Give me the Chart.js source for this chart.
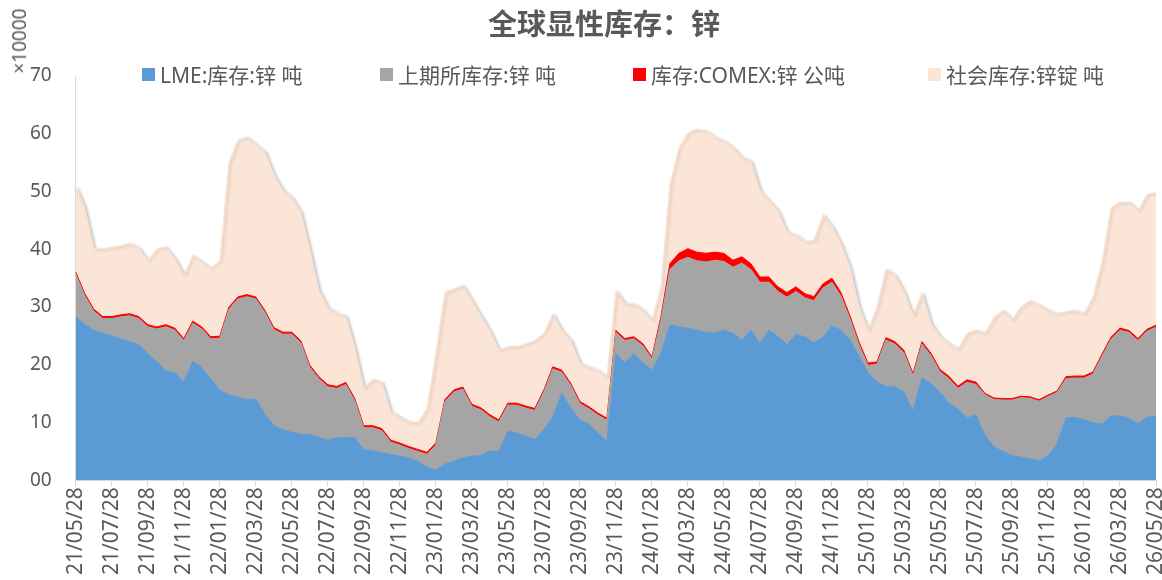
<!DOCTYPE html>
<html>
<head>
<meta charset="utf-8">
<script src="https://cdn.jsdelivr.net/npm/chart.js@4.4.1/dist/chart.umd.min.js"></script>
<style>
  html, body { margin: 0; padding: 0; background: #fff; }
  #wrap { position: relative; width: 1162px; height: 580px; }
  #chartTitle {
    position: absolute; left: 0; top: 1px; width: 1208px; text-align: center;
    font: bold 29px "Noto Sans CJK SC", sans-serif; color: #595959;
  }
  .legItem {
    position: absolute; top: 59px; display: flex; align-items: center; white-space: nowrap;
    font: 21px "Noto Sans", "Noto Sans CJK SC", sans-serif; color: #595959;
  }
  .legBox { width: 13px; height: 13px; margin-right: 5px; }
  #unit {
    position: absolute; left: 19px; top: 41px; transform: translate(-50%, -50%) rotate(-90deg);
    font: 19px "Noto Sans", sans-serif; color: #595959; white-space: nowrap;
  }
</style>
</head>
<body>
<div id="wrap">
  <canvas id="chart"></canvas>
  <div id="chartTitle">全球显性库存：锌</div>
  <div id="unit">×10000</div>
  <div id="legend"></div>
</div>
<script>
// valores em 万吨, pontos a cada meia-quinzena (dia 28 e dia 13)
const lme = [
  28.3, 27, 26, 25.5, 25, 24.5, 24, 23.5, 22, 20.5,
  19, 18.6, 17, 20.6, 19.5, 17.5, 15.6, 14.8, 14.4, 14,
  14, 11.5, 9.5, 8.8, 8.3, 8, 7.9, 7.5, 6.9, 7.4,
  7.4, 7.4, 5.3, 5.1, 4.8, 4.5, 4.2, 3.9, 3.3, 2.3,
  1.8, 2.8, 3.3, 3.9, 4.2, 4.3, 5.1, 4.9, 8.5, 8.2,
  7.6, 7.1, 8.8, 11, 15.1, 12.5, 10.5, 9.7, 8.2, 6.8,
  22, 20.3, 22, 20.3, 19.1, 22, 26.9, 26.6, 26.3, 26,
  25.6, 25.5, 26, 25.5, 24.3, 26, 23.7, 26, 24.9, 23.5,
  25.3, 24.8, 23.8, 24.8, 26.7, 26, 24.3, 21.5, 18.7, 17,
  16.2, 16.2, 15.3, 12, 17.7, 16.8, 15.2, 13.4, 12.3, 10.8,
  11.3, 7.8, 5.8, 5, 4.3, 4, 3.7, 3.4, 4.2, 6.3,
  10.8, 10.9, 10.5, 10, 9.7, 11.2, 11.1, 10.8, 9.8, 10.9,
  11.1,
];
const shfe = [
  7.4, 5.0, 3.3, 2.5, 3.0, 3.8, 4.5, 4.5, 4.6, 5.7,
  7.6, 7.4, 7.2, 6.6, 6.7, 7.0, 9.0, 14.8, 17.0, 17.8,
  17.4, 17.6, 16.6, 16.5, 17.0, 15.8, 11.7, 10.1, 9.3, 8.5,
  9.2, 6.4, 3.8, 4.0, 3.8, 2.1, 1.9, 1.6, 1.7, 2.2,
  4.3, 10.8, 12.0, 11.9, 8.6, 7.9, 5.9, 5.2, 4.5, 4.8,
  4.9, 5.0, 6.5, 8.3, 3.6, 3.9, 2.8, 2.7, 3.1, 3.6,
  3.6, 3.9, 2.5, 3.0, 1.9, 5.7, 9.6, 11.4, 12.3, 12.0,
  12.2, 12.6, 11.9, 11.4, 13.3, 10.5, 10.6, 8.3, 7.8, 8.2,
  7.4, 6.8, 7.3, 8.5, 7.6, 5.9, 3.7, 2.0, 1.2, 3.1,
  8.1, 7.4, 6.8, 6.1, 5.9, 4.8, 3.6, 4.2, 3.6, 6.2,
  5.3, 7.0, 8.2, 8.9, 9.6, 10.3, 10.5, 10.3, 10.3, 8.9,
  6.8, 6.8, 7.2, 8.4, 11.8, 13.2, 14.9, 14.8, 14.4, 14.9,
  15.4,
];
const comex = [
  0.35, 0.35, 0.35, 0.35, 0.35, 0.35, 0.35, 0.35, 0.35, 0.35,
  0.35, 0.35, 0.35, 0.35, 0.35, 0.35, 0.35, 0.35, 0.35, 0.35,
  0.35, 0.35, 0.35, 0.35, 0.35, 0.35, 0.35, 0.35, 0.35, 0.35,
  0.35, 0.35, 0.35, 0.35, 0.35, 0.35, 0.35, 0.35, 0.35, 0.35,
  0.35, 0.35, 0.35, 0.35, 0.35, 0.35, 0.35, 0.35, 0.35, 0.35,
  0.35, 0.35, 0.35, 0.35, 0.35, 0.35, 0.35, 0.35, 0.35, 0.35,
  0.35, 0.35, 0.35, 0.35, 0.35, 0.6, 1.0, 1.3, 1.5, 1.5,
  1.5, 1.4, 1.4, 1.2, 1.1, 1.0, 0.9, 0.9, 0.8, 0.8,
  0.8, 0.7, 0.7, 0.7, 0.7, 0.6, 0.5, 0.5, 0.4, 0.4,
  0.4, 0.4, 0.4, 0.4, 0.4, 0.4, 0.4, 0.4, 0.4, 0.4,
  0.4, 0.25, 0.25, 0.25, 0.25, 0.25, 0.25, 0.25, 0.25, 0.25,
  0.35, 0.35, 0.35, 0.35, 0.35, 0.35, 0.35, 0.35, 0.35, 0.35,
  0.35,
];
const social = [
  14.9, 14.9, 10.5, 11.7, 12.0, 11.9, 12.2, 11.9, 11.1, 13.5,
  13.5, 12.1, 11.0, 11.4, 11.3, 11.9, 13.1, 25.0, 27.2, 27.3,
  26.4, 27.5, 26.5, 24.6, 23.3, 22.3, 20.0, 15.0, 13.4, 12.7,
  11.5, 8.8, 6.5, 8.1, 8.0, 4.9, 4.5, 4.3, 4.6, 7.6,
  15.5, 18.6, 17.5, 17.6, 18.0, 16.0, 14.6, 12.1, 9.8, 9.8,
  10.8, 11.8, 9.8, 9.2, 6.9, 7.5, 6.6, 6.9, 7.4, 7.2,
  6.9, 6.0, 5.7, 5.8, 6.4, 5.2, 13.8, 18.3, 20.1, 21.3,
  21.2, 19.9, 19.5, 19.5, 17.2, 17.8, 15.0, 13.2, 13.2, 10.5,
  9.0, 9.0, 9.8, 12.0, 9.0, 8.5, 8.4, 6.1, 5.7, 9.5,
  11.9, 11.5, 10.2, 10.0, 8.5, 5.2, 5.7, 5.7, 6.4, 8.1,
  9.0, 10.4, 14.0, 15.3, 13.6, 15.5, 16.7, 16.4, 14.7, 13.4,
  11.2, 11.4, 10.8, 13.0, 16.1, 22.5, 21.8, 22.2, 22.1, 23.4,
  23.0,
];

const tickLabels = [
  "21/05/28", "21/07/28", "21/09/28", "21/11/28", "22/01/28", "22/03/28",
  "22/05/28", "22/07/28", "22/09/28", "22/11/28", "23/01/28", "23/03/28",
  "23/05/28", "23/07/28", "23/09/28", "23/11/28", "24/01/28", "24/03/28",
  "24/05/28", "24/07/28", "24/09/28", "24/11/28", "25/01/28", "25/03/28",
  "25/05/28", "25/07/28", "25/09/28", "25/11/28", "26/01/28", "26/03/28",
  "26/05/28",
];

const seriesNames = ["LME:库存:锌 吨", "上期所库存:锌 吨", "库存:COMEX:锌 公吨", "社会库存:锌锭 吨"];
const seriesColors = ["#5B9BD5", "#A5A5A5", "#FF0000", "#FBE5D6"];

// datas: dia 28 de cada mês e dia 13 do mês seguinte
function pad2(n) {
  return String(n).padStart(2, "0");
}
const dates = [];
for (let i = 0; i < lme.length; i++) {
  const m = 4 + Math.floor(i / 2) + (i % 2);
  const yy = 21 + Math.floor(m / 12);
  const mm = (m % 12) + 1;
  dates.push(`${yy}/${pad2(mm)}/${i % 2 === 0 ? 28 : 13}`);
}

// legenda em html
const legendPos = [142, 380, 633, 928];
const legendDiv = document.getElementById("legend");
seriesNames.forEach((name, k) => {
  const item = document.createElement("div");
  item.className = "legItem";
  item.style.left = legendPos[k] + "px";
  item.innerHTML = `<span class="legBox" style="background:${seriesColors[k]}"></span><span>${name}</span>`;
  legendDiv.append(item);
});

// sombra do gráfico de área no topo (社会库存)
const areaShadow = {
  id: "areaShadow",
  beforeDatasetsDraw(chart) {
    const ctx = chart.ctx;
    ctx.save();
    ctx.shadowColor = "rgba(0, 0, 0, 0.22)";
    ctx.shadowBlur = 3;
    ctx.shadowOffsetX = 2;
    ctx.shadowOffsetY = 1;
  },
  afterDatasetDraw(chart, args) {
    if (args.index === 3) chart.ctx.restore();
  },
};

const fontFamily = '"Noto Sans", "Noto Sans CJK SC", sans-serif';
const allSeries = [lme, shfe, comex, social];

new Chart(document.getElementById("chart"), {
  type: "line",
  data: {
    labels: dates,
    datasets: allSeries.map((values, k) => ({
      label: seriesNames[k],
      data: values,
      fill: k === 0 ? "origin" : "-1",
      backgroundColor: seriesColors[k],
      borderColor: seriesColors[k],
      borderWidth: 1,
      pointRadius: 0,
      tension: 0,
    })),
  },
  options: {
    responsive: true,
    maintainAspectRatio: false,
    animation: false,
    layout: {
      padding: { left: 6, right: 6, top: 76, bottom: 4 },
    },
    plugins: {
      legend: { display: false },
      title: { display: false },
      tooltip: { enabled: false },
    },
    scales: {
      x: {
        afterBuildTicks: (scale) => {
          scale.ticks = scale.ticks.filter((t) => tickLabels.includes(dates[t.value]));
        },
        afterFit: (scale) => {
          scale.paddingRight = 0;
        },
        grid: {
          drawOnChartArea: false,
          drawTicks: true,
          tickLength: 6,
          color: "#D9D9D9",
        },
        border: { color: "#D9D9D9" },
        ticks: {
          autoSkip: false,
          minRotation: 90,
          maxRotation: 90,
          padding: 1,
          color: "#595959",
          font: { size: 21, family: fontFamily },
        },
      },
      y: {
        stacked: true,
        min: 0,
        max: 70,
        grid: { drawOnChartArea: false, drawTicks: false },
        border: { color: "#D9D9D9" },
        ticks: {
          stepSize: 10,
          padding: 24,
          color: "#595959",
          font: { size: 19, family: fontFamily },
          callback: (v) => pad2(v),
        },
      },
    },
  },
  plugins: [areaShadow],
});
</script>
</body>
</html>
